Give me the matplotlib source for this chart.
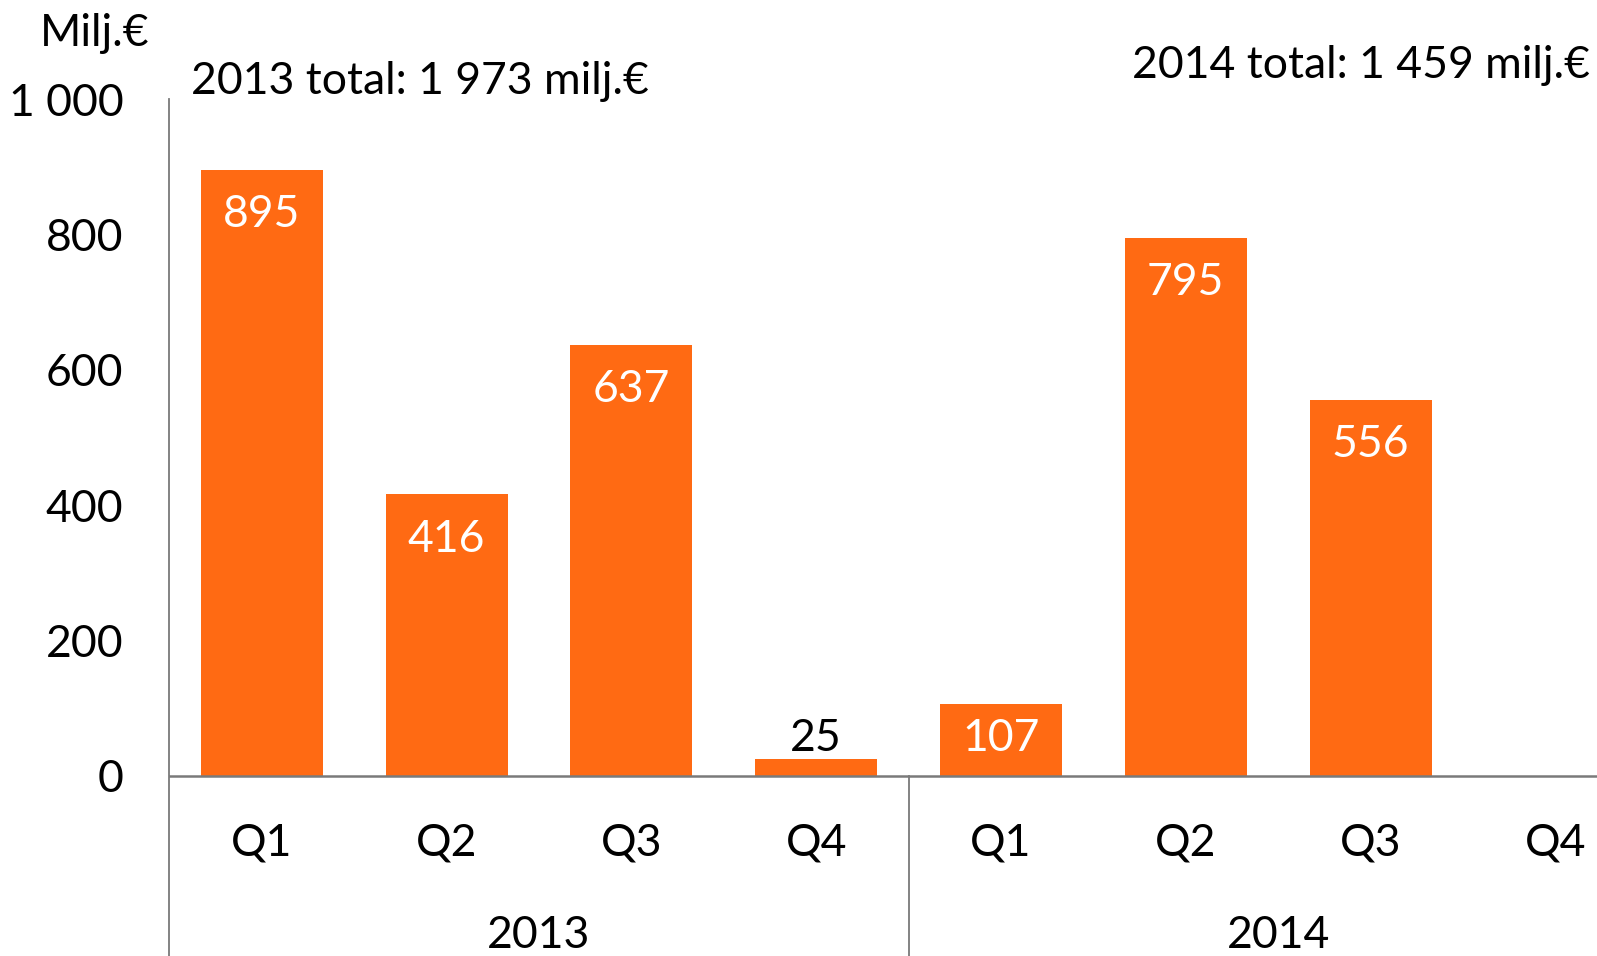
import matplotlib.pyplot as plt
import numpy as np

plt.rcParams['font.family'] = ['Lato', 'DejaVu Sans']

# Data
quarters = ['Q1', 'Q2', 'Q3', 'Q4', 'Q1', 'Q2', 'Q3', 'Q4']
years = ['2013', '2014']
values = [895, 416, 637, 25, 107, 795, 556, np.nan]
totals = ['2013 total: 1 973 milj.€', '2014 total: 1 459 milj.€']

bar_color = '#FF6A13'
line_color = '#7a7a7a'
fs = 32

fig = plt.figure(figsize=(15.97, 9.56), dpi=100)
# axes runs past right edge like the original (chart is cropped)
ax = fig.add_axes([169.4/1597, 0.0, 1478.4/1597, (956-99)/956])

x = np.arange(len(values))
ax.bar(x, values, width=0.66, color=bar_color, zorder=2)

ax.set_xlim(-0.5, len(values) - 0.5)
ax.set_ylim(-266, 1000)
ax.set_yticks([0, 200, 400, 600, 800, 1000])
ax.set_yticklabels(['0', '200', '400', '600', '800', '1 000'], fontsize=fs)
ax.tick_params(axis='y', length=0, pad=33)
ax.set_xticks([])

for s in ['top', 'right', 'bottom']:
    ax.spines[s].set_visible(False)
ax.spines['left'].set_color(line_color)
ax.spines['left'].set_linewidth(1.3)

ax.axhline(0, color=line_color, lw=1.8, zorder=3)
ax.plot([3.5, 3.5], [-266, 0], color=line_color, lw=1.3, clip_on=False)

# value labels
for xi, v in zip(x, values):
    if np.isnan(v):
        continue
    if v > 60:
        ax.text(xi, max(v - 66, 0.52 * v), str(int(v)), ha='center', va='center',
                color='white', fontsize=fs)
    else:
        ax.text(xi, v + 30, str(int(v)), ha='center', va='center', color='black', fontsize=fs)

# category labels
for xi, q in zip(x, quarters):
    ax.text(xi, -99, q, ha='center', va='center', fontsize=fs)
for i, yr in enumerate(years):
    ax.text(1.5 + 4 * i, -236, yr, ha='center', va='center', fontsize=fs)

fig.text(95/1597, 1 - 33/956, 'Milj.€', ha='center', va='center', fontsize=fs)
fig.text(191/1597, 1 - 82/956, totals[0], ha='left', va='center', fontsize=fs)
fig.text(1590/1597, 1 - 66/956, totals[1], ha='right', va='center', fontsize=fs)

fig.savefig('out.png', dpi=100)
